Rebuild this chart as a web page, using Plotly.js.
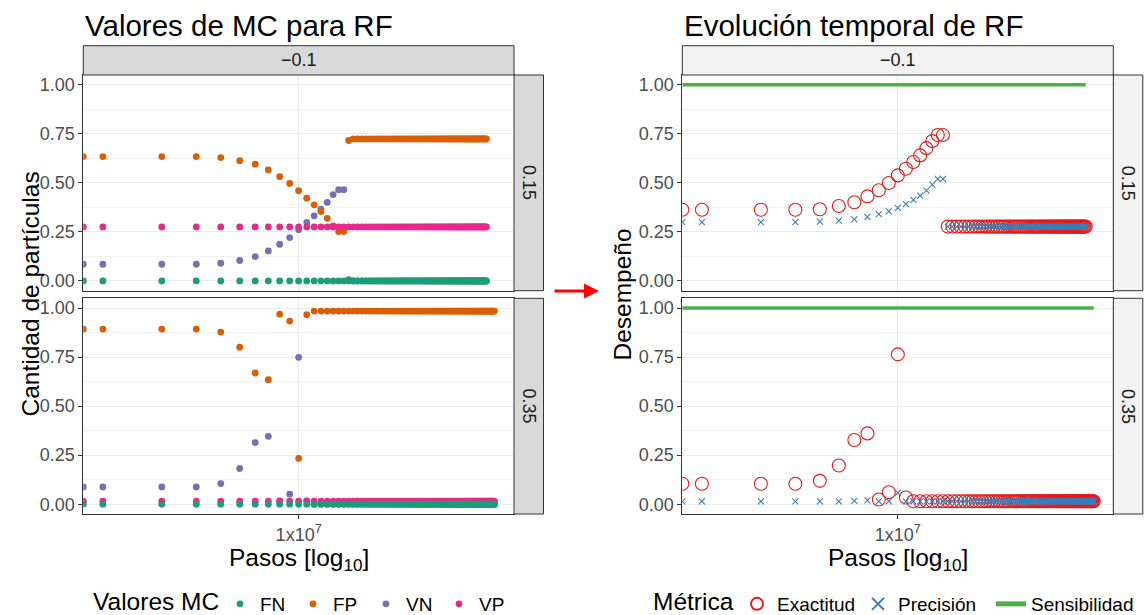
<!DOCTYPE html>
<html><head><meta charset="utf-8">
<script src="https://cdn.plot.ly/plotly-3.0.1.min.js"></script>
<style>html,body{margin:0;padding:0;background:#fff}#chart{width:1144px;height:615px}</style>
</head><body><div id="chart"></div><script>
// ---- data (steps in millions; 0 steps -> drawn at left panel edge, like ggplot's -Inf) ----
const stepsTopM = [0,1,2,3,4,5,6,7,8,9,10,11,12,13,14,15,16,17,18,19,20,21,22,23,24,25,26,27,28,29,30,31,32,33,34,35,36,37,38,39,40,41,42,43,44,45,46,47,48,49,50,51,52,53,54,55,56,57,58,59,60,61,62,63,64,65,66,67,68,69,70,71,72,73,74,75,76,77,78,79,80,81,82,83,84,85,86,87,88,89,90,91];
const stepsBotM = [0,1,2,3,4,5,6,7,8,9,10,11,12,13,14,15,16,17,18,19,20,21,22,23,24,25,26,27,28,29,30,31,32,33,34,35,36,37,38,39,40,41,42,43,44,45,46,47,48,49,50,51,52,53,54,55,56,57,58,59,60,61,62,63,64,65,66,67,68,69,70,71,72,73,74,75,76,77,78,79,80,81,82,83,84,85,86,87,88,89,90,91,92,93,94,95,96,97,98,99,100];

// facet 0.15 — confusion-matrix values (early values, then the plateau value they settle at)
const FN_015 = {head:[0], plateau:0};
const FP_015 = {head:[0.634,0.634,0.634,0.634,0.629,0.613,0.595,0.566,0.532,0.497,0.460,0.422,0.388,0.354,0.319,0.281,0.252,0.252,0.716], plateau:0.724};
const VN_015 = {head:[0.085,0.085,0.085,0.085,0.090,0.104,0.124,0.153,0.187,0.221,0.261,0.298,0.332,0.366,0.400,0.440,0.465,0.465,0.006], plateau:0};
const VP_015 = {head:[0.275], plateau:0.275};
// facet 0.35
const FN_035 = {head:[0], plateau:0};
const FP_035 = {head:[0.893,0.893,0.893,0.893,0.878,0.801,0.669,0.635,0.969,0.934,0.234,0.966], plateau:0.985};
const VN_035 = {head:[0.088,0.088,0.088,0.088,0.105,0.182,0.314,0.346,0.017,0.051,0.749,0.017], plateau:0};
const VP_035 = {head:[0.015], plateau:0.015};

// performance metrics
const EX_015 = {head:[0.363,0.363,0.363,0.363,0.365,0.382,0.401,0.431,0.462,0.499,0.538,0.572,0.606,0.640,0.677,0.713,0.744,0.744], plateau:0.277};
const PR_015 = {head:[0.300,0.300,0.300,0.300,0.302,0.307,0.314,0.326,0.341,0.355,0.372,0.392,0.413,0.435,0.460,0.491,0.520,0.520], plateau:0.277};
const SE_015 = {head:[1], plateau:1};
const EX_035 = {head:[0.104,0.104,0.104,0.104,0.119,0.197,0.327,0.361,0.024,0.061,0.764,0.034], plateau:0.015};
const PR_035 = {head:[0.014,0.014,0.014,0.014,0.014,0.014,0.017,0.020,0.014,0.014,0.058,0.014], plateau:0.014};
const SE_035 = {head:[1], plateau:1};

const mcNames = ['FN','FP','VN','VP'];
const mcColors = ['#1B9E77','#D95F02','#7570B3','#E7298A'];
const metricNames = ['Exactitud','Precisión','Sensibilidad'];
const metricColors = ['#E41A1C','#377EB8','#4DAF4A'];
const facetCols = ['\u22120.1'];
const facetRows = ['0.15','0.35'];
const legendTitles = ['Valores MC','Métrica'];

// ---- helpers ----
const XMIN_LOG = 5.9, XMAX_LOG = 8.1;
function xs(stepsM){ return stepsM.map(s => s === 0 ? Math.pow(10, XMIN_LOG) : s*1e6); }
function vals(spec, n){ const out = spec.head.slice(); while(out.length < n) out.push(spec.plateau); return out; }
const W = 1144, H = 615;
const px = x => x / W, py = y => 1 - y / H;

const FONT = 'Liberation Sans, Arial, Helvetica, sans-serif';
const traces = [];
const mcSets = [[FN_015,FP_015,VN_015,VP_015],[FN_035,FP_035,VN_035,VP_035]];
const steps = [stepsTopM, stepsBotM];
const mcDrawOrder = [2,1,3,0];
for (let r = 0; r < 2; r++) {
  const n = steps[r].length;
  for (const i of mcDrawOrder) {
    traces.push({
      type:'scatter', mode:'markers', name: mcNames[i], legendgroup: mcNames[i], legendrank: i+1,
      showlegend: r === 0, legend:'legend', legendwidth: 28,
      x: xs(steps[r]), y: vals(mcSets[r][i], n),
      xaxis: r === 0 ? 'x' : 'x2', yaxis: r === 0 ? 'y' : 'y2',
      marker:{color: mcColors[i], size:6.8}, cliponaxis:true
    });
  }
}
const metSets = [[EX_015,PR_015,SE_015],[EX_035,PR_035,SE_035]];
for (let r = 0; r < 2; r++) {
  const n = steps[r].length;
  const xa = r === 0 ? 'x3' : 'x4', ya = r === 0 ? 'y3' : 'y4';
  traces.push({type:'scatter', mode:'lines', name: metricNames[2], legendgroup:'SE', legendrank:3, showlegend: r===0, legend:'legend2', legendwidth:110,
    x: xs(steps[r]), y: vals(metSets[r][2], n), xaxis:xa, yaxis:ya,
    line:{color: metricColors[2], width:3.5}});
  traces.push({type:'scatter', mode:'markers', name: metricNames[0], legendgroup:'EX', legendrank:1, showlegend: r===0, legend:'legend2', legendwidth:76,
    x: xs(steps[r]), y: vals(metSets[r][0], n), xaxis:xa, yaxis:ya,
    marker:{symbol:'circle-open', size:13, color: metricColors[0], line:{width:1.1, color: metricColors[0]}}});
  traces.push({type:'scatter', mode:'markers', name: metricNames[1], legendgroup:'PR', legendrank:2, showlegend: r===0, legend:'legend2', legendwidth:88,
    x: xs(steps[r]), y: vals(metSets[r][1], n), xaxis:xa, yaxis:ya,
    marker:{symbol:'x-thin', size:6, color: metricColors[1], line:{width:1.1, color: metricColors[1]}}});
}

// ---- layout geometry (pixels) ----
const LX = [83.3, 514], RX = [682.3, 1113.3];
const ROW1 = [75, 290.7], ROW2 = [298.3, 514];
const STRIP_TOP = 45.7, FSTRIP_W = 29.5;

function xAxis(dom, bottom){
  return {type:'log', range:[XMIN_LOG, XMAX_LOG], domain: dom, tickvals:[1e7], ticktext:['1x10<sup>7</sup>'],
    showticklabels: bottom, ticks: bottom ? 'outside' : '', ticklen:4, tickcolor:'#333333', tickwidth:1,
    tickfont:{size:18, color:'#4D4D4D', family:FONT},
    showgrid:true, gridcolor:'#EBEBEB', gridwidth:1.2, zeroline:false,
    showline:true, mirror:true, linecolor:'#333333', linewidth:1, fixedrange:true};
}
function yAxis(dom, anchor){
  return {range:[-0.05,1.05], domain: dom, anchor: anchor, tickvals:[0,0.25,0.5,0.75,1], ticktext:['0.00','0.25','0.50','0.75','1.00'],
    ticks:'outside', ticklen:4, tickcolor:'#333333', tickwidth:1, tickfont:{size:18, color:'#4D4D4D', family:FONT},
    showgrid:true, gridcolor:'#EBEBEB', gridwidth:1.2, zeroline:false,
    minor:{tickvals:[0.125,0.375,0.625,0.875], showgrid:true, gridcolor:'#EBEBEB', gridwidth:0.6, ticks:''},
    showline:true, mirror:true, linecolor:'#333333', linewidth:1, fixedrange:true};
}
const dL = [px(LX[0]), px(LX[1])], dR = [px(RX[0]), px(RX[1])];
const d1 = [py(ROW1[1]), py(ROW1[0])], d2 = [py(ROW2[1]), py(ROW2[0])];

const shapes = [];
const annotations = [];
function rect(x0,x1,y0,y1,fill){ shapes.push({type:'rect', xref:'paper', yref:'paper', x0:px(x0), x1:px(x1), y0:py(y1), y1:py(y0), fillcolor:fill, line:{color:'#333333', width:1}, layer:'above'}); }
function text(t, x, y, size, opts){ annotations.push(Object.assign({text:t, xref:'paper', yref:'paper', x:px(x), y:py(y), xanchor:'center', yanchor:'middle', showarrow:false, font:{size:size, color:'#000000', family:FONT}}, opts||{})); }

// strips
[[LX,'#D9D9D9'],[RX,'#F2F2F2']].forEach(([X,fill]) => {
  rect(X[0], X[1], STRIP_TOP, ROW1[0], fill);
  text(facetCols[0], (X[0]+X[1])/2, (STRIP_TOP+ROW1[0])/2, 18, {font:{size:18,color:'#1A1A1A',family:FONT}});
  [ROW1, ROW2].forEach((R, i) => {
    rect(X[1], X[1]+FSTRIP_W, R[0], R[1], fill);
    text(facetRows[i], X[1]+FSTRIP_W/2, (R[0]+R[1])/2, 18, {textangle:90, font:{size:18,color:'#1A1A1A',family:FONT}});
  });
});

// titles
text('Valores de MC para RF', 83, 25, 29.5, {xanchor:'left'});
text('Evolución temporal de RF', 682, 25, 29.5, {xanchor:'left'});
text('Cantidad de partículas', 30, (ROW1[0]+ROW2[1])/2, 24.5, {textangle:-90});
text('Desempeño', 622, (ROW1[0]+ROW2[1])/2, 24.5, {textangle:-90});
text('Pasos [log<sub>10</sub>]', (LX[0]+LX[1])/2, 559, 24.5);
text('Pasos [log<sub>10</sub>]', (RX[0]+RX[1])/2, 559, 24.5);
// legend titles
text(legendTitles[0], 92, 601, 24.5, {xanchor:'left', borderpad:0});
text(legendTitles[1], 652, 601, 24.5, {xanchor:'left', borderpad:0});
// arrow
annotations.push({text:'', xref:'paper', yref:'paper', x:px(599), y:py(291), ax:-46, ay:0, showarrow:true,
  arrowhead:2, arrowsize:1, arrowwidth:3, arrowcolor:'#FF0000', standoff:0});

const layout = {
  width:W, height:H, margin:{l:0,r:0,t:0,b:0, autoexpand:false}, paper_bgcolor:'#FFFFFF', plot_bgcolor:'#FFFFFF',
  font:{family:FONT, color:'#000000'},
  xaxis: xAxis(dL,false), xaxis2: xAxis(dL,true), xaxis3: xAxis(dR,false), xaxis4: xAxis(dR,true),
  yaxis: yAxis(d1,'x'), yaxis2: yAxis(d2,'x2'), yaxis3: yAxis(d1,'x3'), yaxis4: yAxis(d2,'x4'),
  shapes, annotations,
  legend:{orientation:'h', x:px(220), xanchor:'left', y:py(604), yanchor:'middle', bgcolor:'rgba(0,0,0,0)',
    font:{size:19, family:FONT}, traceorder:'normal'},
  legend2:{orientation:'h', x:px(737), xanchor:'left', y:py(604), yanchor:'middle', bgcolor:'rgba(0,0,0,0)',
    font:{size:19, family:FONT}, traceorder:'normal', itemsizing:'constant'},
  showlegend:true
};
layout.xaxis.anchor='y'; layout.xaxis2.anchor='y2'; layout.xaxis3.anchor='y3'; layout.xaxis4.anchor='y4';
Plotly.newPlot('chart', traces, layout, {displayModeBar:false, staticPlot:true});
</script></body></html>
